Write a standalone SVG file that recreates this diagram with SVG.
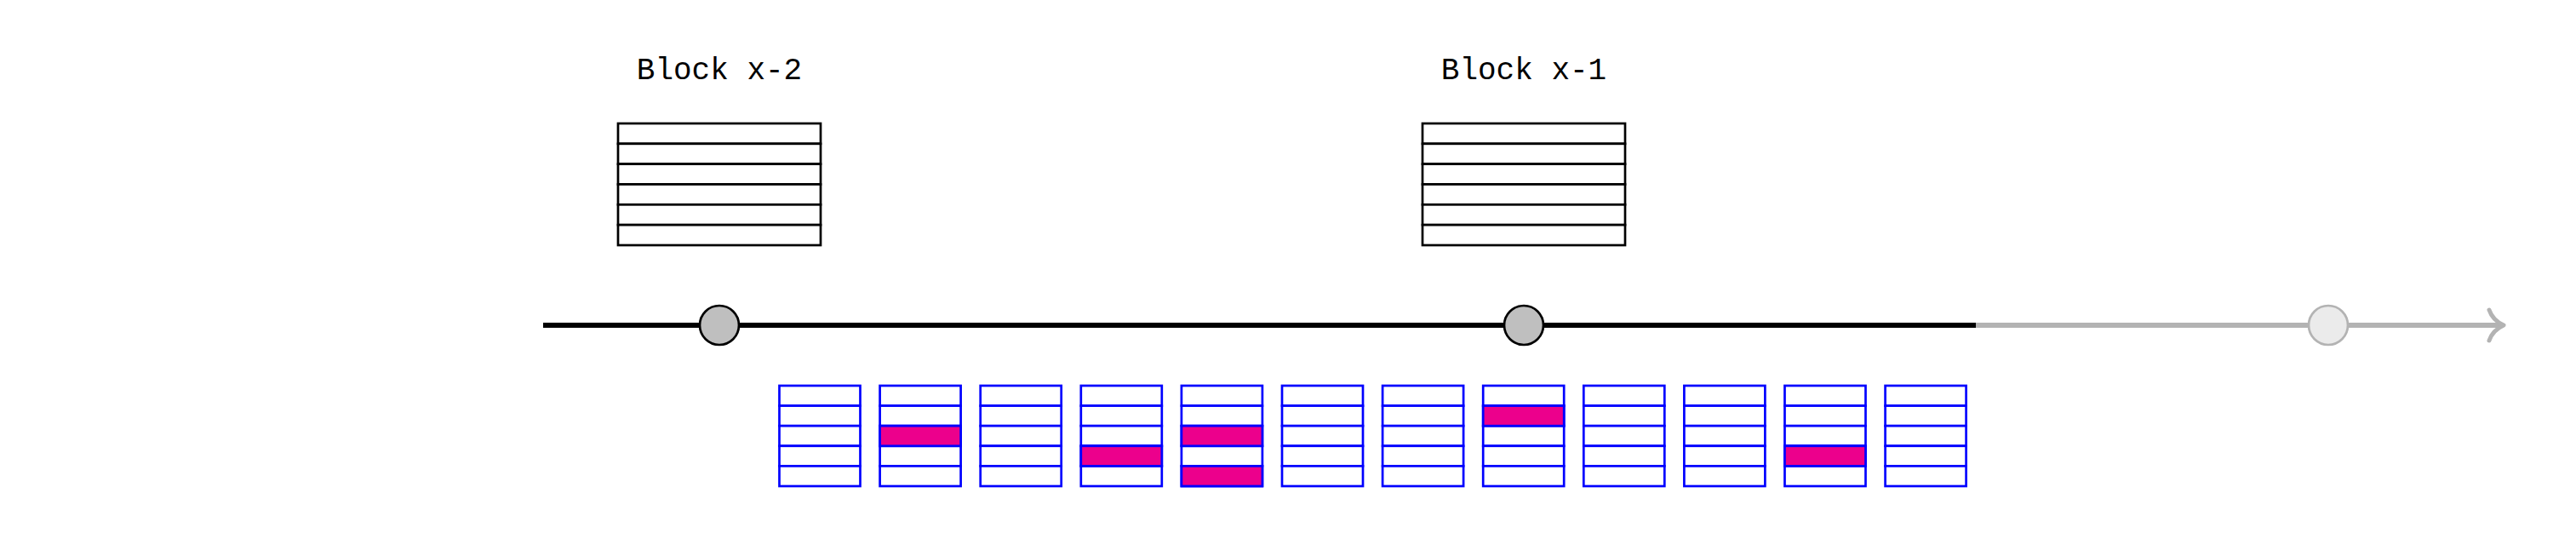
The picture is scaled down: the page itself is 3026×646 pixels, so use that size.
<svg xmlns="http://www.w3.org/2000/svg" width="3026" height="646" viewBox="0 0 3026 646">
<style>
.lbl{font-family:"Liberation Mono","DejaVu Sans Mono",monospace;font-size:36px;fill:#000;text-anchor:middle}
.blk rect{fill:#fff;stroke:#000;stroke-width:2.7}
.hit{fill:#ec008c;stroke:#0000ff;stroke-width:2.7}
.past{fill:#bfbfbf;stroke:#000;stroke-width:2.7}
.future{fill:#ebebeb;stroke:#b3b3b3;stroke-width:2.7}
</style>
<defs>
<g id="pool" fill="#ffffff" stroke="#0000ff" stroke-width="2.7">
<rect x="0" y="0" width="95" height="23.6"/>
<rect x="0" y="23.6" width="95" height="23.6"/>
<rect x="0" y="47.2" width="95" height="23.6"/>
<rect x="0" y="70.8" width="95" height="23.6"/>
<rect x="0" y="94.4" width="95" height="23.6"/>
</g>
</defs>
<rect width="3026" height="646" fill="#fff"/>
<g id="connectors">
<line x1="638" y1="382" x2="2321" y2="382" stroke="#000" stroke-width="6"/>
<line x1="2321" y1="382" x2="2938" y2="382" stroke="#b3b3b3" stroke-width="6"/>
<path d="M2924,364 Q2928,376 2941,382 Q2928,388 2924,400" fill="none" stroke="#b3b3b3" stroke-width="5" stroke-linecap="round" stroke-linejoin="round"/>
</g>
<g id="block-x-2" class="blk">
<text class="lbl" x="845" y="93">Block x-2</text>
<rect x="726" y="145" width="238" height="23.83"/>
<rect x="726" y="168.83" width="238" height="23.83"/>
<rect x="726" y="192.67" width="238" height="23.83"/>
<rect x="726" y="216.5" width="238" height="23.83"/>
<rect x="726" y="240.33" width="238" height="23.83"/>
<rect x="726" y="264.17" width="238" height="23.83"/>
</g>
<g id="block-x-1" class="blk">
<text class="lbl" x="1790" y="93">Block x-1</text>
<rect x="1671" y="145" width="238" height="23.83"/>
<rect x="1671" y="168.83" width="238" height="23.83"/>
<rect x="1671" y="192.67" width="238" height="23.83"/>
<rect x="1671" y="216.5" width="238" height="23.83"/>
<rect x="1671" y="240.33" width="238" height="23.83"/>
<rect x="1671" y="264.17" width="238" height="23.83"/>
</g>
<g id="node-1"><circle class="past" cx="845" cy="382" r="23"/></g>
<g id="node-2"><circle class="past" cx="1790" cy="382" r="23"/></g>
<g id="node-3"><circle class="future" cx="2735" cy="382" r="23"/></g>
<g id="tx-1" transform="translate(915.5,453)"><use href="#pool"/></g>
<g id="tx-2" transform="translate(1033.6,453)"><use href="#pool"/><rect class="hit" x="0" y="47.2" width="95" height="23.6"/></g>
<g id="tx-3" transform="translate(1151.7,453)"><use href="#pool"/></g>
<g id="tx-4" transform="translate(1269.8,453)"><use href="#pool"/><rect class="hit" x="0" y="70.8" width="95" height="23.6"/></g>
<g id="tx-5" transform="translate(1387.9,453)"><use href="#pool"/><rect class="hit" x="0" y="47.2" width="95" height="23.6"/><rect class="hit" x="0" y="94.4" width="95" height="23.6"/></g>
<g id="tx-6" transform="translate(1506,453)"><use href="#pool"/></g>
<g id="tx-7" transform="translate(1624.1,453)"><use href="#pool"/></g>
<g id="tx-8" transform="translate(1742.2,453)"><use href="#pool"/><rect class="hit" x="0" y="23.6" width="95" height="23.6"/></g>
<g id="tx-9" transform="translate(1860.3,453)"><use href="#pool"/></g>
<g id="tx-10" transform="translate(1978.4,453)"><use href="#pool"/></g>
<g id="tx-11" transform="translate(2096.5,453)"><use href="#pool"/><rect class="hit" x="0" y="70.8" width="95" height="23.6"/></g>
<g id="tx-12" transform="translate(2214.6,453)"><use href="#pool"/></g>
</svg>
